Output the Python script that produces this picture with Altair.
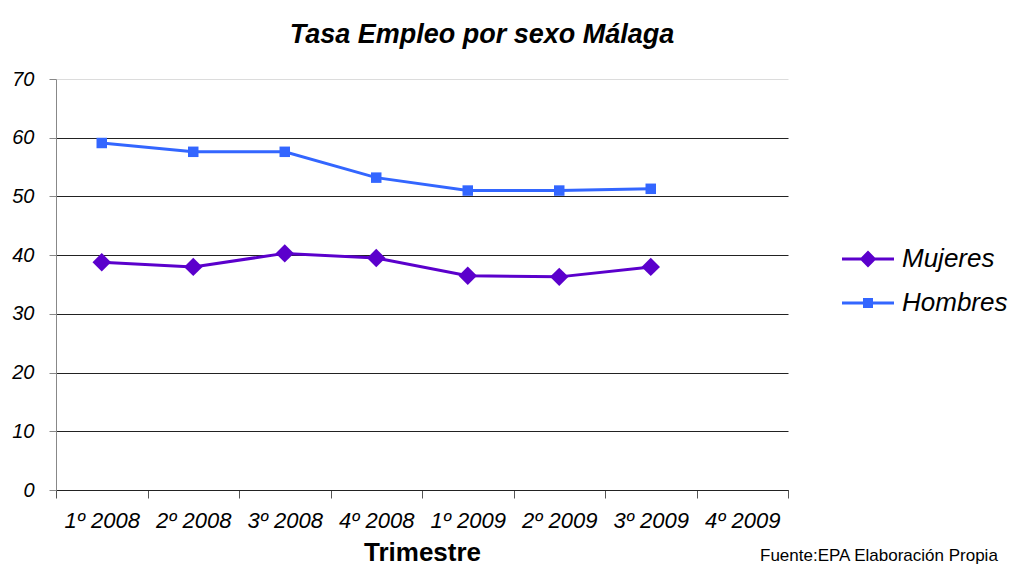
import altair as alt
import pandas as pd

quarters = ["1º 2008", "2º 2008", "3º 2008", "4º 2008", "1º 2009", "2º 2009", "3º 2009", "4º 2009"]
mujeres = [38.8, 38.0, 40.3, 39.5, 36.5, 36.3, 38.0]
hombres = [59.1, 57.6, 57.6, 53.2, 51.0, 51.0, 51.3]
series = ["Mujeres", "Hombres"]
y_ticks = [0, 10, 20, 30, 40, 50, 60, 70]
title_text = "Tasa Empleo por sexo Málaga"
x_title = "Trimestre"
source_note = "Fuente:EPA Elaboración Propia"

C_M = "#5B00CC"
C_H = "#3366FF"
FONT = "Liberation Sans"

rows = []
for q, v in zip(quarters, mujeres):
    rows.append({"trimestre": q, "serie": "Mujeres", "tasa": v})
for q, v in zip(quarters, hombres):
    rows.append({"trimestre": q, "serie": "Hombres", "tasa": v})
df = pd.DataFrame(rows)

x_enc = alt.X(
    "trimestre:N",
    sort=quarters,
    scale=alt.Scale(type="band", domain=quarters, paddingInner=0, paddingOuter=0),
    axis=alt.Axis(
        title=x_title, titleFont=FONT, titleFontSize=26, titleFontWeight="bold",
        titleColor="black", titlePadding=8,
        labelFont=FONT, labelFontSize=22, labelFontStyle="italic", labelColor="black",
        labelAngle=0, labelPadding=12, tickBand="extent", tickSize=8,
        tickColor="#555", domainColor="#222", grid=False,
    ),
)
y_enc = alt.Y(
    "tasa:Q",
    scale=alt.Scale(domain=[0, 70], nice=False),
    axis=alt.Axis(
        title=None, values=y_ticks, grid=True,
        gridColor={"condition": {"test": "datum.value === 70", "value": "#dcdcdc"}, "value": "#222222"},
        domainColor="#888", tickColor="#888", tickSize=7,
        labelFont=FONT, labelFontSize=20, labelFontStyle="italic", labelColor="black",
        labelPadding=15,
    ),
)

base = alt.Chart(df)

line_m = base.transform_filter(alt.datum.serie == "Mujeres").mark_line(color=C_M, strokeWidth=3).encode(x=x_enc, y=y_enc)
line_h = base.transform_filter(alt.datum.serie == "Hombres").mark_line(color=C_H, strokeWidth=3).encode(x=x_enc, y=y_enc)
pts_m = base.transform_filter(alt.datum.serie == "Mujeres").mark_point(
    shape="diamond", filled=True, color=C_M, size=340, opacity=1).encode(x=x_enc, y=y_enc)
pts_h = base.transform_filter(alt.datum.serie == "Hombres").mark_point(
    shape="square", filled=True, color=C_H, size=110, opacity=1).encode(x=x_enc, y=y_enc)

P_M = "M-1.3,-0.075H1.3V0.075H-1.3Z M0,-0.42L0.42,0L0,0.42L-0.42,0Z"
P_H = "M-1.3,-0.075H1.3V0.075H-1.3Z M-0.25,-0.25H0.25V0.25H-0.25Z"

leg = alt.Legend(
    title=None, orient="none", legendX=792, legendY=160, padding=0,
    symbolSize=1600, symbolStrokeWidth=0, symbolOpacity=1,
    labelFont=FONT, labelFontSize=26, labelFontStyle="italic", labelColor="black",
    labelOffset=14, rowPadding=11,
)
legend_layer = base.transform_filter("false").mark_point(filled=True, opacity=1, strokeWidth=0).encode(
    color=alt.Color("serie:N", scale=alt.Scale(domain=series, range=[C_M, C_H]), legend=leg),
    shape=alt.Shape("serie:N", scale=alt.Scale(domain=series, range=[P_M, P_H]), legend=leg),
)

note = alt.Chart(pd.DataFrame({"t": [source_note]})).mark_text(
    align="left", baseline="alphabetic", font=FONT, fontSize=17, color="black"
).encode(x=alt.value(704), y=alt.value(482), text="t:N")

chart = alt.layer(line_m, line_h, pts_m, pts_h, legend_layer, note).properties(
    width=732, height=411,
    title=alt.Title(title_text, font=FONT, fontSize=27, fontStyle="italic", fontWeight="bold",
                    color="black", anchor="middle", dx=60, offset=20),
    autosize=alt.AutoSizeParams(type="none"),
    padding={"left": 48, "top": 71, "right": 224, "bottom": 77},
).configure_view(stroke=None)

chart.save("out.html", embed_options={"renderer": "svg", "actions": False})
